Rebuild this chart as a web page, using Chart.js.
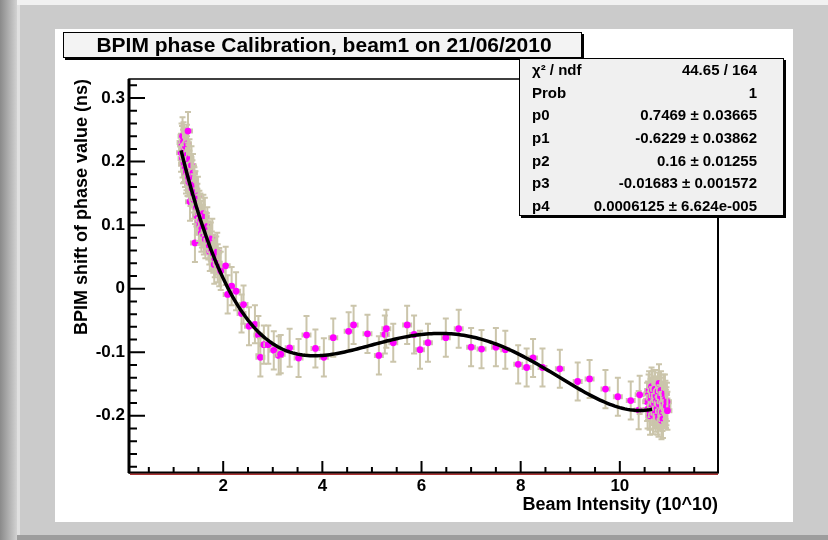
<!DOCTYPE html>
<html>
<head>
<meta charset="utf-8">
<script src="https://cdn.jsdelivr.net/npm/chart.js@4.4.1/dist/chart.umd.min.js"></script>
<style>
  html, body { margin: 0; padding: 0; overflow: hidden; background: #d6d6d6; }
  canvas { display: block; }
</style>
</head>
<body>
<canvas id="myChart" width="828" height="540"></canvas>
<script>
// beam intensity (10^10) and measured phase shift (ns)
const intensity = [
  // low-intensity fills
  1.15, 1.16, 1.17, 1.18, 1.18, 1.19, 1.19, 1.20, 1.21, 1.21,
  1.22, 1.23, 1.23, 1.24, 1.25, 1.25, 1.26, 1.27, 1.27, 1.28,
  1.28, 1.29, 1.30, 1.30, 1.31, 1.32, 1.32, 1.33, 1.34, 1.35,
  1.36, 1.36, 1.37, 1.38, 1.39, 1.40, 1.41, 1.41, 1.42, 1.43,
  1.44, 1.45, 1.46, 1.47, 1.48, 1.49, 1.50, 1.51, 1.52, 1.53,
  1.54, 1.55, 1.56, 1.57, 1.59, 1.60, 1.61, 1.63, 1.64, 1.65,
  1.67, 1.68, 1.70, 1.72, 1.73, 1.75, 1.77, 1.78, 1.80, 1.82,
  1.83, 1.86, 1.88, 1.89, 1.92, 1.95,
  // ramp
  2.05, 2.09, 2.17, 2.26, 2.37, 2.41, 2.52, 2.64, 2.71, 2.75,
  2.82, 2.91, 3.02, 3.12, 3.16, 3.34, 3.52, 3.68, 3.86, 4.03,
  4.22, 4.53, 4.63, 4.91, 5.14, 5.26, 5.29, 5.43, 5.71, 5.85,
  5.97, 6.13, 6.49, 6.75, 7.00, 7.21, 7.50, 7.69, 7.95, 8.12,
  8.25, 8.44, 8.79, 9.15, 9.39, 9.71, 9.96, 10.22, 10.38, 10.40,
  // nominal intensity
  10.55, 10.56, 10.57, 10.58, 10.59, 10.60, 10.61, 10.62, 10.63, 10.64,
  10.65, 10.66, 10.67, 10.68, 10.69, 10.70, 10.71, 10.72, 10.73, 10.74,
  10.75, 10.76, 10.77, 10.78, 10.78, 10.79, 10.80, 10.81, 10.82, 10.83,
  10.84, 10.85, 10.86, 10.87, 10.88, 10.89, 10.90, 10.91, 10.92, 10.93,
  10.94, 10.95, 10.96
];
const phaseShift = [
  0.214, 0.230, 0.226, 0.205, 0.240, 0.220, 0.196, 0.232, 0.198, 0.222,
  0.215, 0.190, 0.208, 0.224, 0.203, 0.180, 0.185, 0.210, 0.228, 0.176,
  0.200, 0.248, 0.196, 0.175, 0.168, 0.187, 0.205, 0.137, 0.160, 0.180,
  0.194, 0.170, 0.158, 0.172, 0.182, 0.150, 0.164, 0.140, 0.161, 0.072,
  0.155, 0.142, 0.128, 0.115, 0.135, 0.146, 0.118, 0.105, 0.124, 0.099,
  0.120, 0.108, 0.088, 0.095, 0.102, 0.118, 0.084, 0.113, 0.078, 0.090,
  0.089, 0.098, 0.076, 0.068, 0.058, 0.074, 0.060, 0.080, 0.055, 0.038,
  0.048, 0.052, 0.058, 0.040, 0.034, 0.028,
  0.036, -0.009, 0.004, -0.004, -0.039, -0.025, -0.059, -0.056, -0.073, -0.108,
  -0.088, -0.088, -0.097, -0.105, -0.103, -0.093, -0.109, -0.073, -0.094, -0.108,
  -0.077, -0.067, -0.057, -0.071, -0.105, -0.072, -0.063, -0.085, -0.057, -0.072,
  -0.096, -0.085, -0.077, -0.063, -0.092, -0.095, -0.092, -0.096, -0.119, -0.124,
  -0.109, -0.124, -0.126, -0.146, -0.142, -0.158, -0.170, -0.176, -0.191, -0.167,
  -0.178, -0.190, -0.176, -0.165, -0.160, -0.192, -0.200, -0.172, -0.170, -0.154,
  -0.185, -0.160, -0.199, -0.168, -0.190, -0.180, -0.158, -0.195, -0.168, -0.176,
  -0.188, -0.200, -0.162, -0.203, -0.180, -0.149, -0.182, -0.193, -0.170, -0.160,
  -0.207, -0.178, -0.194, -0.205, -0.165, -0.180, -0.186, -0.165, -0.175, -0.189,
  -0.185, -0.178, -0.192
];
const intensityErr = 0.08;
const phaseErr = 0.03;

// pol4 fit result
const fitParams = [0.7469, -0.6229, 0.16, -0.01683, 0.0006125];
const fitRange = [1.15, 10.65];

const xTicks = [2, 4, 6, 8, 10];
const yTicks = [-0.2, -0.1, 0, 0.1, 0.2, 0.3];
const yTickLabels = ['-0.2', '-0.1', '0', '0.1', '0.2', '0.3'];

const statNames = ['χ² / ndf', 'Prob', 'p0', 'p1', 'p2', 'p3', 'p4'];
const statValues = [
  '44.65 / 164', '1',
  '0.7469 ± 0.03665', '-0.6229 ± 0.03862', '0.16 ± 0.01255',
  '-0.01683 ± 0.001572', '0.0006125 ± 6.624e-005'
];

const plotTitle = 'BPIM phase Calibration, beam1 on 21/06/2010';

const FONT = '"Liberation Sans", Arial, sans-serif';
const barColor = '#cbc5ab';

const points = intensity.map((v, i) => ({ x: v, y: phaseShift[i] }));

const fitCurve = [];
for (let k = 0; k <= 190; k++) {
  const xv = fitRange[0] + (fitRange[1] - fitRange[0]) * k / 190;
  let yv = 0;
  fitParams.forEach((p, n) => { yv += p * Math.pow(xv, n); });
  fitCurve.push({ x: xv, y: yv });
}

// grey panel behind the white pad
const backdrop = {
  id: 'backdrop',
  beforeDraw(chart) {
    const ctx = chart.ctx;
    ctx.save();
    ctx.fillStyle = '#d6d6d6';
    ctx.fillRect(0, 0, 828, 540);
    const g = ctx.createLinearGradient(0, 0, 17, 0);
    g.addColorStop(0, '#8a8a8a');
    g.addColorStop(1, '#d2d2d2');
    ctx.fillStyle = g;
    ctx.fillRect(0, 0, 17, 540);
    ctx.fillStyle = '#f1f1f1';
    ctx.fillRect(17, 0, 811, 5);
    ctx.fillStyle = '#cbcbcb';
    ctx.fillRect(17, 5, 811, 530);
    ctx.fillStyle = '#e0e0e0';
    ctx.fillRect(17, 5, 3, 530);
    ctx.fillStyle = '#9d9d9d';
    ctx.fillRect(17, 535, 811, 5);
    ctx.fillStyle = '#ffffff';
    ctx.fillRect(55, 29, 738, 493);
    ctx.restore();
  }
};

// error bars and markers drawn point by point, so later bars cover earlier markers
const errorBars = {
  id: 'errorBars',
  beforeDatasetDraw(chart, args) {
    if (args.index !== 0) return;
    const { ctx, scales: { x, y }, chartArea } = chart;
    ctx.save();
    args.meta.data.forEach((pt, i) => {
      const d = points[i];
      const top = y.getPixelForValue(d.y + phaseErr);
      const bot = y.getPixelForValue(d.y - phaseErr);
      const lft = x.getPixelForValue(d.x - intensityErr);
      const rgt = x.getPixelForValue(d.x + intensityErr);
      ctx.strokeStyle = barColor;
      ctx.lineWidth = 2;
      ctx.beginPath();
      ctx.moveTo(pt.x, top); ctx.lineTo(pt.x, bot);
      ctx.moveTo(pt.x - 3, top); ctx.lineTo(pt.x + 3, top);
      ctx.moveTo(pt.x - 3, bot); ctx.lineTo(pt.x + 3, bot);
      ctx.moveTo(lft, pt.y); ctx.lineTo(rgt, pt.y);
      ctx.moveTo(lft, pt.y - 2.5); ctx.lineTo(lft, pt.y + 2.5);
      ctx.moveTo(rgt, pt.y - 2.5); ctx.lineTo(rgt, pt.y + 2.5);
      ctx.stroke();
      pt.draw(ctx, chartArea);
    });
    ctx.restore();
    return false;
  }
};

function boxWithShadow(ctx, bx, by, bw, bh, fill) {
  ctx.fillStyle = '#000';
  ctx.fillRect(bx + 2, by + 2, bw, bh);
  ctx.fillStyle = fill;
  ctx.fillRect(bx, by, bw, bh);
  ctx.strokeStyle = '#000';
  ctx.lineWidth = 1;
  ctx.strokeRect(bx + 0.5, by + 0.5, bw - 1, bh - 1);
}

// frame, inward ticks, title box and fit statistics
const frame = {
  id: 'frame',
  afterDraw(chart) {
    const { ctx, chartArea: a, scales: { x, y } } = chart;
    ctx.save();
    ctx.strokeStyle = '#000';
    ctx.lineWidth = 2;
    ctx.beginPath();
    for (let k = -14; k <= 16; k++) {
      const py = y.getPixelForValue(k * 0.02);
      const len = k % 5 === 0 ? 16 : 8;
      ctx.moveTo(a.left, py); ctx.lineTo(a.left + len, py);
    }
    for (let k = 1; k <= 23; k++) {
      const px = x.getPixelForValue(k * 0.5);
      const len = k % 4 === 0 ? 12 : 6;
      ctx.moveTo(px, a.bottom); ctx.lineTo(px, a.bottom - len);
    }
    ctx.stroke();

    ctx.lineWidth = 1.5;
    ctx.strokeRect(a.left, a.top, a.right - a.left, a.bottom - a.top);
    ctx.lineWidth = 3;
    ctx.beginPath();
    ctx.moveTo(a.left, a.top); ctx.lineTo(a.left, a.bottom);
    ctx.stroke();
    ctx.lineWidth = 2;
    ctx.beginPath();
    ctx.moveTo(a.right, a.top); ctx.lineTo(a.right, a.bottom);
    ctx.stroke();
    ctx.lineWidth = 2;
    ctx.beginPath();
    ctx.moveTo(a.left, a.bottom - 0.5); ctx.lineTo(a.right, a.bottom - 0.5);
    ctx.stroke();
    ctx.strokeStyle = '#a83232';
    ctx.lineWidth = 1.5;
    ctx.beginPath();
    ctx.moveTo(a.left + 1, a.bottom + 1.2); ctx.lineTo(a.right, a.bottom + 1.2);
    ctx.stroke();

    // title
    boxWithShadow(ctx, 63, 32, 519, 26, '#f3f3f3');
    ctx.fillStyle = '#000';
    ctx.font = 'bold 21px ' + FONT;
    ctx.textAlign = 'center';
    ctx.textBaseline = 'middle';
    ctx.fillText(plotTitle, 324, 46);

    // fit statistics
    boxWithShadow(ctx, 519, 58, 265, 158, '#f0f0f0');
    ctx.fillStyle = '#000';
    ctx.font = 'bold 15px ' + FONT;
    statNames.forEach((name, i) => {
      const ry = 71 + i * 22.6;
      ctx.textAlign = 'left';
      ctx.fillText(name, 532, ry);
      ctx.textAlign = 'right';
      ctx.fillText(statValues[i], 757, ry);
    });
    ctx.restore();
  }
};

new Chart(document.getElementById('myChart'), {
  type: 'scatter',
  data: {
    datasets: [{
      label: 'data',
      data: points,
      order: 1,
      showLine: false,
      pointRadius: 3.4,
      pointBackgroundColor: '#ff00ff',
      pointBorderColor: '#ff00ff',
      pointBorderWidth: 0
    }, {
      label: 'pol4',
      type: 'line',
      data: fitCurve,
      order: 0,
      borderColor: '#000',
      borderWidth: 3.5,
      pointRadius: 0,
      fill: false,
      tension: 0
    }]
  },
  options: {
    responsive: false,
    animation: false,
    devicePixelRatio: 1,
    layout: { padding: { left: 60, top: 79, right: 110, bottom: 24 } },
    plugins: { legend: { display: false }, tooltip: { enabled: false } },
    scales: {
      x: {
        type: 'linear',
        min: 0.1,
        max: 11.98,
        afterBuildTicks: s => { s.ticks = xTicks.map(v => ({ value: v })); },
        afterFit: s => { s.height = 43; },
        grid: { display: false, drawTicks: false },
        border: { display: false },
        ticks: { color: '#000', padding: 3, font: { family: FONT, size: 17, weight: 'bold' } },
        title: {
          display: true,
          text: 'Beam Intensity (10^10)',
          align: 'end',
          color: '#000',
          padding: { top: 0, bottom: 0 },
          font: { family: FONT, size: 18, weight: 'bold' }
        }
      },
      y: {
        type: 'linear',
        min: -0.29,
        max: 0.33,
        afterBuildTicks: s => { s.ticks = yTicks.map(v => ({ value: v })); },
        afterFit: s => { s.width = 69; },
        grid: { display: false, drawTicks: false },
        border: { display: false },
        ticks: {
          color: '#000',
          padding: 4,
          font: { family: FONT, size: 17, weight: 'bold' },
          callback: v => yTickLabels[yTicks.findIndex(t => Math.abs(t - v) < 1e-9)]
        },
        title: {
          display: true,
          text: 'BPIM shift of phase value (ns)',
          align: 'end',
          color: '#000',
          padding: { top: 11, bottom: 0 },
          font: { family: FONT, size: 18, weight: 'bold' }
        }
      }
    }
  },
  plugins: [backdrop, errorBars, frame]
});
</script>
</body>
</html>
